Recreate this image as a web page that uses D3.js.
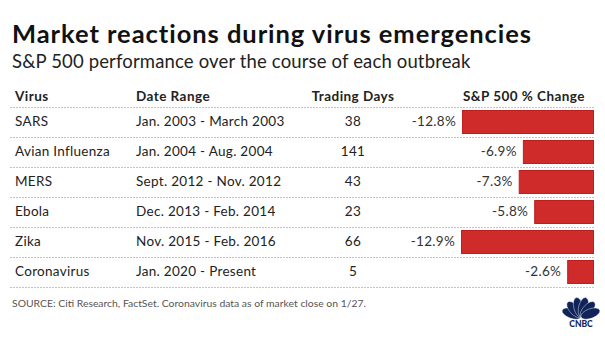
<!DOCTYPE html>
<html>
<head>
<meta charset="utf-8">
<script src="https://cdn.jsdelivr.net/npm/d3@7"></script>
<style>
  body { margin: 0; background: #fff; }
  text { font-family: Lato, "Open Sans", sans-serif; }
</style>
</head>
<body>
<div id="chart"></div>
<script>
// table data
const viruses = ["SARS", "Avian Influenza", "MERS", "Ebola", "Zika", "Coronavirus"];
const dateRanges = ["Jan. 2003 - March 2003", "Jan. 2004 - Aug. 2004", "Sept. 2012 - Nov. 2012",
                    "Dec. 2013 - Feb. 2014", "Nov. 2015 - Feb. 2016", "Jan. 2020 - Present"];
const tradingDays = [38, 141, 43, 23, 66, 5];
const spChange = [-12.8, -6.9, -7.3, -5.8, -12.9, -2.6];
const headers = ["Virus", "Date Range", "Trading Days", "S&P 500 % Change"];

const W = 605, H = 341;

let svg = d3.select("#chart")
    .append("svg")
    .attr("width", W)
    .attr("height", H)

svg.append("text")
    .attr("x", 12).attr("y", 43)
    .attr("font-size", 25.5).attr("font-weight", 700)
    .attr("letter-spacing", 0.95)
    .attr("fill", "#111")
    .text("Market reactions during virus emergencies")

svg.append("text")
    .attr("x", 12).attr("y", 68)
    .attr("font-size", 18.5)
    .attr("letter-spacing", 0.15)
    .attr("fill", "#222")
    .text("S&P 500 performance over the course of each outbreak")

// rows
let y = d3.scaleBand()
    .domain(viruses)
    .range([107, 287])

let x = d3.scaleLinear()
    .domain([d3.min(spChange), 0])
    .range([461, 594])

// header
const headerX = [15, 136, 353, 524];
const headerAnchor = ["start", "start", "middle", "middle"];
svg.selectAll(".hdr")
    .data(headers)
    .join("text")
    .attr("class", "hdr")
    .attr("x", (d, i) => headerX[i])
    .attr("y", 101)
    .attr("text-anchor", (d, i) => headerAnchor[i])
    .attr("font-size", 13.5).attr("font-weight", 700)
    .attr("letter-spacing", 0.45)
    .attr("fill", "#222")
    .text(d => d)

// dashed separators
let lines = [107].concat(viruses.map(v => y(v) + y.bandwidth()))
svg.selectAll(".sep")
    .data(lines)
    .join("line")
    .attr("class", "sep")
    .attr("x1", 10).attr("x2", 594)
    .attr("y1", d => d + 0.5).attr("y2", d => d + 0.5)
    .attr("stroke", "#c4c4c4")
    .attr("stroke-dasharray", "2,1")

let rows = svg.selectAll(".row")
    .data(viruses)
    .join("g")
    .attr("class", "row")
    .attr("transform", d => "translate(0," + y(d) + ")")

rows.append("text")
    .attr("x", 15).attr("y", 19)
    .attr("font-size", 13.5).attr("letter-spacing", 0.3).attr("fill", "#222")
    .text(d => d)

rows.append("text")
    .attr("x", 136).attr("y", 19)
    .attr("font-size", 13.5).attr("letter-spacing", 0.3).attr("fill", "#222")
    .text((d, i) => dateRanges[i])

rows.append("text")
    .attr("x", 353).attr("y", 19)
    .attr("text-anchor", "middle")
    .attr("font-size", 13.5).attr("letter-spacing", 0.3).attr("fill", "#222")
    .text((d, i) => tradingDays[i])

rows.append("rect")
    .attr("x", (d, i) => x(spChange[i]) + 0.5)
    .attr("y", 3.5)
    .attr("width", (d, i) => x(0) - x(spChange[i]) - 1)
    .attr("height", y.bandwidth() - 7)
    .attr("fill", "#d02b2b")
    .attr("stroke", "#bd1e1e")

rows.append("text")
    .attr("x", (d, i) => x(spChange[i]) - 6)
    .attr("y", 19)
    .attr("text-anchor", "end")
    .attr("font-size", 13.5).attr("letter-spacing", 0.3).attr("fill", "#333")
    .text((d, i) => spChange[i].toFixed(1) + "%")

svg.append("text")
    .attr("x", 12).attr("y", 307)
    .attr("font-size", 10.4).attr("fill", "#555")
    .text("SOURCE: Citi Research, FactSet. Coronavirus data as of market close on 1/27.")

// CNBC peacock
let logo = svg.append("g").attr("transform", "translate(581,317)")
const feathers = [-70, -42, -14, 14, 42, 70];
logo.selectAll(".f")
    .data(feathers)
    .join("ellipse")
    .attr("class", "f")
    .attr("cx", 0).attr("cy", -10)
    .attr("rx", 4.8).attr("ry", 10)
    .attr("fill", "#10245a")
    .attr("stroke", "#fff").attr("stroke-width", 0.4)
    .attr("transform", d => "rotate(" + d + ")")
logo.append("text")
    .attr("x", 0).attr("y", 9.5)
    .attr("text-anchor", "middle")
    .attr("font-family", "'DejaVu Sans'")
    .attr("font-size", 8.5).attr("font-weight", 900)
    .attr("fill", "#10245a")
    .text("CNBC")
</script>
</body>
</html>
